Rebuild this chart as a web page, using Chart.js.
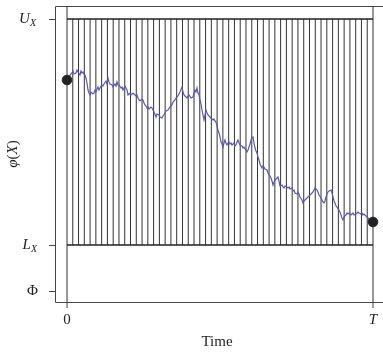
<!DOCTYPE html>
<html>
<head>
<meta charset="utf-8">
<script src="https://cdn.jsdelivr.net/npm/chart.js@4"></script>
<style>
  html, body { margin: 0; padding: 0; background: #fff; overflow: hidden; }
  #wrap { position: absolute; left: 0; top: 0; width: 383px; height: 356px; }
  #chart { display: block; }
</style>
</head>
<body>
<div id="wrap"><canvas id="chart"></canvas></div>
<script>
// values in picture units: time 0..T, level PHI..U
const T = 306;
const U = 272;
const L = 46;
const PHI = 0;
const X_MIN = -12, X_MAX = 316;
const Y_MIN = -11, Y_MAX = 285;

const gridTimes = [0, 5.77, 11.55, 17.32, 23.09, 28.87, 34.64, 40.42, 46.19, 51.96, 57.74,
    63.51, 69.28, 75.06, 80.83, 86.6, 92.38, 98.15, 103.92, 109.7, 115.47, 121.25, 127.02,
    132.79, 138.57, 144.34, 150.11, 155.89, 161.66, 167.43, 173.21, 178.98, 184.75, 190.53,
    196.3, 202.08, 207.85, 213.62, 219.4, 225.17, 230.94, 236.72, 242.49, 248.26, 254.04,
    259.81, 265.58, 271.36, 277.13, 282.91, 288.68, 294.45, 300.23, 306];

const pathTime = [0, 2, 4, 5, 6, 7, 9, 10, 11, 13, 14, 15, 16, 17, 18, 19, 20, 21, 22, 23,
    24, 25, 26, 27, 28, 29, 30, 31, 32, 33, 34, 35, 36, 37, 39, 40, 41, 42, 43, 45, 46, 47,
    48, 49, 50, 51, 52, 54, 55, 56, 57, 58, 59, 60, 61, 63, 64, 65, 66, 68, 69, 70, 71, 72,
    73, 75, 76, 77, 78, 79, 80, 81, 82, 84, 85, 86, 87, 89, 90, 92, 93, 95, 96, 98, 99, 101,
    103, 105, 106, 108, 109, 111, 113, 115, 116, 117, 119, 120, 121, 122, 124, 126, 127,
    128, 129, 130, 131, 132, 133, 134, 135, 136, 137, 138, 139, 140, 141, 142, 144, 145,
    146, 147, 148, 149, 150, 151, 152, 153, 154, 155, 156, 157, 158, 159, 160, 161, 162,
    163, 164, 165, 166, 167, 168, 169, 170, 171, 172, 173, 175, 176, 177, 178, 179, 180,
    181, 182, 183, 184, 185, 186, 187, 188, 189, 190, 191, 192, 193, 195, 196, 197, 198,
    200, 201, 202, 203, 204, 205, 206, 207, 208, 210, 211, 212, 213, 215, 216, 217, 218,
    220, 221, 222, 223, 225, 226, 227, 228, 230, 231, 232, 233, 235, 236, 237, 238, 240,
    241, 242, 243, 245, 246, 247, 248, 249, 250, 251, 252, 254, 255, 256, 257, 258, 259,
    260, 261, 262, 264, 265, 266, 267, 268, 269, 270, 271, 272, 273, 274, 275, 276, 277,
    279, 280, 281, 282, 284, 285, 286, 287, 289, 290, 291, 292, 294, 295, 296, 297, 299,
    300, 301, 302, 304, 305, 306];
const pathValue = [211, 214, 217, 218, 220, 217, 218, 221, 219, 216, 220, 218, 219, 217, 216,
    213, 208, 201, 198, 196, 199, 198, 197, 198, 201, 199, 202, 204, 201, 203, 205, 206,
    205, 207, 210, 207, 213, 209, 207, 206, 204, 206, 207, 205, 209, 206, 206, 203, 204,
    201, 203, 205, 203, 201, 196, 198, 196, 197, 198, 196, 195, 196, 193, 191, 190, 192,
    191, 188, 186, 185, 183, 184, 182, 184, 183, 181, 179, 174, 177, 176, 174, 173, 175,
    178, 180, 181, 184, 186, 189, 191, 193, 195, 199, 204, 199, 196, 194, 193, 195, 196,
    193, 194, 198, 201, 199, 203, 198, 196, 191, 187, 181, 176, 171, 176, 181, 178, 176,
    175, 173, 172, 171, 172, 170, 169, 165, 161, 158, 154, 149, 147, 144, 148, 151, 148,
    146, 148, 149, 147, 148, 146, 147, 148, 145, 146, 149, 151, 148, 146, 145, 143, 144,
    142, 141, 139, 141, 144, 147, 151, 153, 154, 148, 143, 140, 138, 134, 131, 127, 123,
    125, 124, 122, 121, 118, 116, 115, 113, 110, 106, 109, 111, 113, 114, 110, 105, 106,
    104, 103, 105, 104, 103, 104, 102, 103, 100, 101, 98, 97, 99, 97, 94, 91, 88, 90, 91,
    93, 94, 95, 96, 98, 99, 101, 103, 102, 101, 99, 96, 93, 91, 89, 88, 90, 94, 97, 99,
    100, 101, 98, 94, 90, 88, 85, 84, 82, 81, 79, 76, 73, 71, 74, 76, 78, 77, 78, 76, 77,
    78, 76, 77, 78, 79, 78, 77, 78, 76, 77, 75, 74, 73, 72, 71, 70, 69, 68, 69, 68, 67, 66];

const serif = '"Liberation Serif", "DejaVu Serif", serif';

// inner grid lines between L and U, gaps between them
const gridData = [];
gridTimes.slice(1, -1).forEach(t => {
    gridData.push({ x: t, y: L }, { x: t, y: U }, { x: t, y: null });
});
const edgeData = [
    { x: 0, y: Y_MIN }, { x: 0, y: Y_MAX }, { x: 0, y: null },
    { x: T, y: Y_MIN }, { x: T, y: Y_MAX }
];
const boundData = [
    { x: 0, y: U }, { x: T, y: U }, { x: T, y: null },
    { x: 0, y: L }, { x: T, y: L }
];
const pathData = pathTime.map((t, i) => ({ x: t, y: pathValue[i] }));
const dotData = [pathData[0], pathData[pathData.length - 1]];

function drawParts(ctx, parts, x, y, align) {
    // parts: [text, font, dy]
    let w = 0;
    parts.forEach(p => { ctx.font = p[1]; w += ctx.measureText(p[0]).width; });
    let cx = align === 'right' ? x - w : align === 'center' ? x - w / 2 : x;
    ctx.textAlign = 'left';
    ctx.textBaseline = 'middle';
    parts.forEach(p => {
        ctx.font = p[1];
        ctx.fillText(p[0], cx, y + (p[2] || 0));
        cx += ctx.measureText(p[0]).width;
    });
}

const framePlugin = {
    id: 'frame',
    beforeDatasetsDraw(chart) {
        const { ctx, chartArea: a } = chart;
        const w = chart.width;
        ctx.save();
        ctx.strokeStyle = '#444';
        ctx.lineWidth = 1;
        ctx.beginPath();
        ctx.moveTo(a.left + 0.5, a.top + 0.5);
        ctx.lineTo(w, a.top + 0.5);
        ctx.moveTo(a.left + 0.5, a.top + 0.5);
        ctx.lineTo(a.left + 0.5, a.bottom + 0.5);
        ctx.moveTo(a.left + 0.5, a.bottom + 0.5);
        ctx.lineTo(w, a.bottom + 0.5);
        ctx.stroke();
        ctx.restore();
    },
    afterDraw(chart) {
        const { ctx, chartArea: a } = chart;
        const xs = chart.scales.x, ys = chart.scales.y;
        ctx.save();
        ctx.strokeStyle = '#444';
        ctx.lineWidth = 1;
        ctx.beginPath();
        [U, L, PHI].forEach(v => {
            const py = Math.round(ys.getPixelForValue(v)) + 0.5;
            ctx.moveTo(a.left - 6, py);
            ctx.lineTo(a.left, py);
        });
        [0, T].forEach(v => {
            const px = xs.getPixelForValue(v);
            ctx.moveTo(px, a.bottom);
            ctx.lineTo(px, a.bottom + 6);
        });
        ctx.stroke();

        ctx.fillStyle = '#222';
        const it = 'italic 15px ' + serif, up = '15px ' + serif, sub = 'italic 10px ' + serif;
        drawParts(ctx, [['U', it], ['X', sub, 4]], 36, ys.getPixelForValue(U), 'right');
        drawParts(ctx, [['L', it], ['X', sub, 4]], 37, ys.getPixelForValue(L), 'right');
        drawParts(ctx, [['\u03A6', up]], 38, ys.getPixelForValue(PHI), 'right');

        drawParts(ctx, [['0', up]], xs.getPixelForValue(0), 320, 'center');
        drawParts(ctx, [['T', it]], xs.getPixelForValue(T), 320, 'center');
        drawParts(ctx, [['Time', up]], 217, 342, 'center');

        ctx.translate(13, (a.top + a.bottom) / 2);
        ctx.rotate(-Math.PI / 2);
        drawParts(ctx, [['\u03C6', it], ['(', up], ['X', it], [')', up]], 0, 0, 'center');
        ctx.restore();
    }
};

new Chart(document.getElementById('chart'), {
    type: 'scatter',
    data: {
        datasets: [
            {
                label: 'ends',
                data: dotData,
                backgroundColor: '#222',
                borderColor: '#222',
                pointRadius: 4.8,
                order: 0
            },
            {
                label: 'path',
                data: pathData,
                showLine: true,
                borderColor: '#5a5aa8',
                borderWidth: 1.2,
                pointRadius: 0,
                order: 1
            },
            {
                label: 'bounds',
                data: boundData,
                showLine: true,
                spanGaps: false,
                borderColor: '#222',
                borderWidth: 1.6,
                pointRadius: 0,
                order: 2
            },
            {
                label: 'edges',
                data: edgeData,
                showLine: true,
                spanGaps: false,
                borderColor: '#333',
                borderWidth: 1,
                pointRadius: 0,
                order: 3
            },
            {
                label: 'grid',
                data: gridData,
                showLine: true,
                spanGaps: false,
                borderColor: '#333',
                borderWidth: 1,
                pointRadius: 0,
                order: 4
            }
        ]
    },
    options: {
        responsive: true,
        maintainAspectRatio: false,
        animation: false,
        devicePixelRatio: 1,
        layout: { autoPadding: false, padding: { left: 55, top: 6, right: 0, bottom: 54 } },
        plugins: { legend: { display: false }, tooltip: { enabled: false } },
        scales: {
            x: { type: 'linear', min: X_MIN, max: X_MAX, display: false },
            y: { type: 'linear', min: Y_MIN, max: Y_MAX, display: false }
        }
    },
    plugins: [framePlugin]
});
</script>
</body>
</html>
